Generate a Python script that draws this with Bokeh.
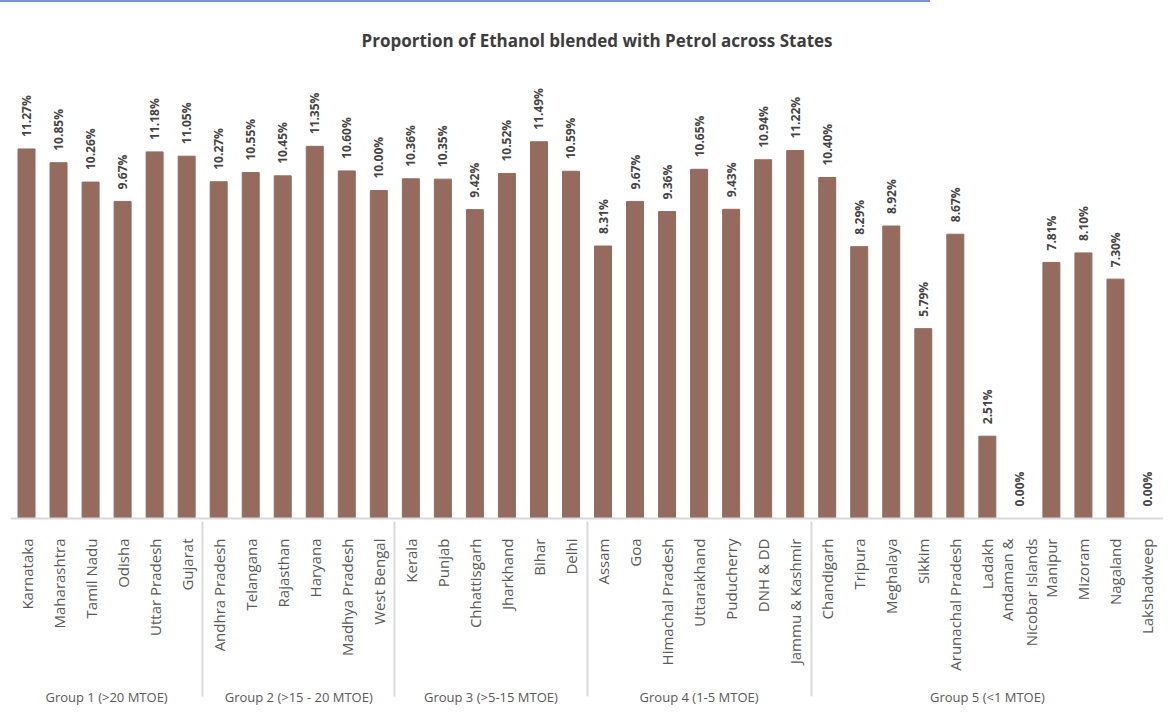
import math
from bokeh.plotting import figure
from bokeh.models import FactorRange, ColumnDataSource, Range1d, Div
from bokeh.layouts import column
from bokeh.embed import file_html
from bokeh.resources import INLINE
from bokeh.core.properties import value

title_text = "Proportion of Ethanol blended with Petrol across States"

group_names = [
    "Group 1 (>20 MTOE)",
    "Group 2 (>15 - 20 MTOE)",
    "Group 3 (>5-15 MTOE)",
    "Group 4 (1-5 MTOE)",
    "Group 5 (<1 MTOE)",
]
states_g1 = ["Karnataka", "Maharashtra", "Tamil Nadu", "Odisha", "Uttar Pradesh", "Gujarat"]
values_g1 = [11.27, 10.85, 10.26, 9.67, 11.18, 11.05]
states_g2 = ["Andhra Pradesh", "Telangana", "Rajasthan", "Haryana", "Madhya Pradesh", "West Bengal"]
values_g2 = [10.27, 10.55, 10.45, 11.35, 10.60, 10.00]
states_g3 = ["Kerala", "Punjab", "Chhattisgarh", "Jharkhand", "Bihar", "Delhi"]
values_g3 = [10.36, 10.35, 9.42, 10.52, 11.49, 10.59]
states_g4 = ["Assam", "Goa", "Himachal Pradesh", "Uttarakhand", "Puducherry", "DNH & DD", "Jammu & Kashmir"]
values_g4 = [8.31, 9.67, 9.36, 10.65, 9.43, 10.94, 11.22]
states_g5 = ["Chandigarh", "Tripura", "Meghalaya", "Sikkim", "Arunachal Pradesh", "Ladakh",
             "Andaman &\nNicobar Islands", "Manipur", "Mizoram", "Nagaland", "Lakshadweep"]
values_g5 = [10.40, 8.29, 8.92, 5.79, 8.67, 2.51, 0.00, 7.81, 8.10, 7.30, 0.00]

all_states = [states_g1, states_g2, states_g3, states_g4, states_g5]
all_values = [values_g1, values_g2, values_g3, values_g4, values_g5]

factors, vals = [], []
for g, sts, vs in zip(group_names, all_states, all_values):
    for s, v in zip(sts, vs):
        factors.append((g, s))
        vals.append(v)

src = ColumnDataSource(dict(x=factors, y=vals, lab=[f"{v:.2f}%" for v in vals]))

FONT = "Open Sans"
GREY = "#d9d9d9"
LABEL = "#595959"

p = figure(
    frame_width=1153, frame_height=462,
    x_range=FactorRange(*factors, group_padding=0, factor_padding=0, range_padding=0),
    y_range=Range1d(0, 14.09),
    output_backend="svg", toolbar_location=None,
    min_border_left=10, min_border_right=0, min_border_top=54, min_border_bottom=0,
)
p.title.text = title_text
p.title.align = "left"
p.title.offset = 351
p.title.text_font = FONT
p.title.text_font_size = "17px"
p.title.text_font_style = "bold"
p.title.text_color = "#3d3d3d"
p.title.standoff = 10

p.vbar(x="x", top="y", width=0.53, source=src, color="#946b5d")
p.text(x="x", y="y", text="lab", source=src, angle=math.pi / 2,
       text_align="left", text_baseline="middle", y_offset=-12,
       text_font=value(FONT), text_font_style="bold", text_font_size="12px",
       text_color="#444444")

p.yaxis.visible = False
p.xgrid.grid_line_color = None
p.ygrid.grid_line_color = None
p.outline_line_color = None

ax = p.xaxis[0]
ax.axis_line_color = GREY
ax.axis_line_width = 2
ax.major_tick_line_color = None
ax.minor_tick_line_color = None
ax.major_label_orientation = math.pi / 2
ax.major_label_standoff = 14
ax.major_label_text_font = FONT
ax.major_label_text_font_size = "15px"
ax.major_label_text_color = LABEL
ax.group_text_font = FONT
ax.group_text_font_size = "13px"
ax.group_text_font_style = "normal"
ax.group_text_color = LABEL
ax.group_text_line_height = 3.0
ax.separator_line_color = GREY
ax.separator_line_width = 2

line = Div(text="", width=930, height=2, margin=(0, 0, 0, 0),
           styles={"background-color": "#7096d8"})

layout = column(line, p, spacing=0)
open("out.html", "w").write(file_html(layout, INLINE))
